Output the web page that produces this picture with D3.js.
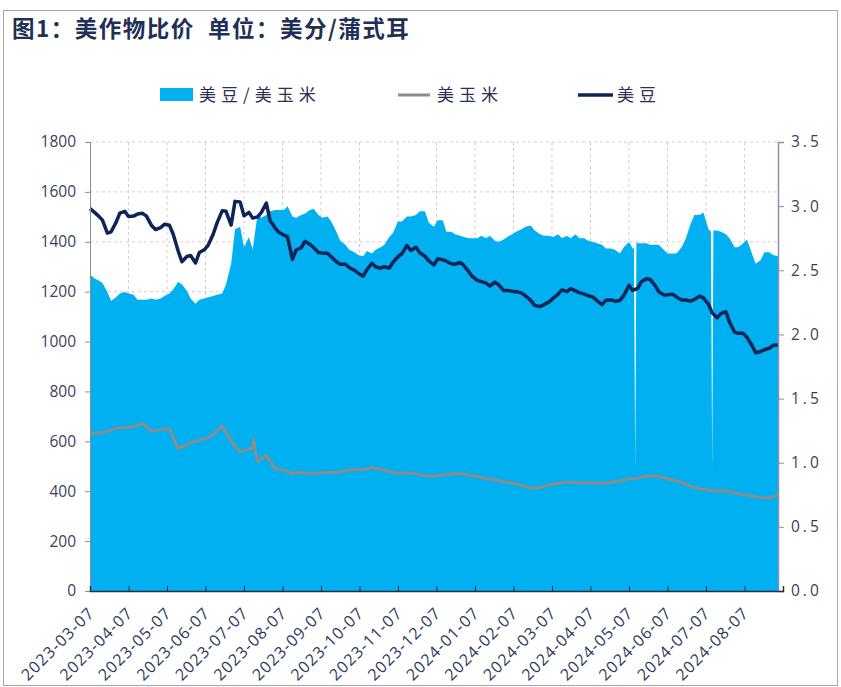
<!DOCTYPE html>
<html><head><meta charset="utf-8">
<script src="https://cdn.jsdelivr.net/npm/d3@7"></script>
<style>body{margin:0;background:#fff}</style>
</head><body>
<svg id="c" width="841" height="687"></svg>
<script>
// ---------- data ----------
const titleText = "图1：美作物比价  单位：美分/蒲式耳";
const legendLabels = ["美豆/美玉米", "美玉米", "美豆"];
const startDate = "2023-03-07";   // first observation (a Tuesday)
const lastDate = "2024-09-03";    // last observation
// soybean & ratio: two readings per week (Tuesday, Friday) from startDate
const soy = [1533,1521,1503,1487,1435,1440,1478,1515,1522,1501,
  1503,1511,1514,1503,1465,1449,1457,1470,1466,1430,
  1363,1320,1341,1345,1315,1357,1368,1386,1430,1476,
  1524,1522,1467,1562,1560,1504,1518,1495,1500,1518,
  1555,1485,1456,1438,1427,1421,1330,1367,1376,1402,
  1390,1377,1357,1355,1354,1340,1320,1310,1310,1297,
  1286,1274,1262,1288,1314,1300,1294,1300,1295,1318,
  1340,1352,1385,1365,1378,1356,1342,1324,1307,1332,
  1328,1322,1312,1310,1317,1305,1280,1260,1245,1240,
  1234,1222,1238,1228,1205,1205,1202,1200,1195,1183,
  1165,1145,1140,1148,1160,1174,1190,1207,1200,1212,
  1203,1196,1190,1184,1178,1164,1148,1166,1167,1162,
  1165,1185,1225,1205,1213,1240,1252,1249,1225,1200,
  1187,1188,1190,1179,1167,1167,1162,1169,1182,1175,
  1150,1115,1095,1112,1120,1078,1038,1033,1033,1017,
  985,955,960,967,973,985,986];
const ratio = [2.47,2.44,2.42,2.40,2.33,2.26,2.29,2.32,2.33,2.32,
  2.31,2.27,2.27,2.27,2.28,2.27,2.28,2.30,2.32,2.35,
  2.41,2.39,2.34,2.28,2.24,2.27,2.28,2.29,2.30,2.31,
  2.32,2.39,2.55,2.82,2.84,2.68,2.76,2.66,2.94,2.91,
  2.93,2.96,2.97,2.97,2.97,3.00,2.92,2.91,2.93,2.94,
  2.97,2.98,2.93,2.91,2.92,2.88,2.80,2.73,2.70,2.66,
  2.64,2.62,2.61,2.65,2.63,2.66,2.68,2.70,2.76,2.79,
  2.88,2.88,2.92,2.92,2.93,2.96,2.96,2.87,2.84,2.89,
  2.89,2.80,2.80,2.78,2.77,2.76,2.75,2.75,2.75,2.77,
  2.75,2.77,2.73,2.72,2.74,2.76,2.78,2.80,2.82,2.84,
  2.85,2.81,2.78,2.77,2.77,2.76,2.78,2.75,2.77,2.75,
  2.78,2.75,2.75,2.73,2.72,2.71,2.70,2.67,2.67,2.66,
  2.63,2.68,2.72,2.67,2.71,2.71,2.71,2.70,2.70,2.70,
  2.66,2.63,2.63,2.63,2.68,2.74,2.86,2.93,2.93,2.95,
  2.82,0.95,2.81,2.80,2.78,2.75,2.68,2.68,2.71,2.74,
  2.63,2.55,2.58,2.64,2.64,2.62,2.61];
// extra daily readings of the ratio around its one-day drops
const ratioExtraDates = ["2024-05-11","2024-05-12","2024-05-13","2024-07-11","2024-07-13"];
const ratioExtraValues = [2.67,0.95,2.72,2.80,2.81];
// corn: one reading per week (Tuesday) from startDate
const corn = [633,633,638,653,655,658,673,640,648,650,
  570,588,600,610,625,663,600,558,570,520,
  545,490,485,470,476,470,472,475,475,482,
  487,487,495,487,478,472,474,470,462,460,
  465,469,472,465,458,452,445,438,432,425,
  412,415,425,432,437,435,433,433,432,435,
  440,450,452,460,462,455,445,435,420,410,
  405,400,402,392,388,380,375,372,385];
// extra daily corn readings around its short spike in July 2023
const cornExtraDates = ["2023-07-14","2023-07-15","2023-07-16"];
const cornExtraValues = [572,608,565];
const leftTicks = [0,200,400,600,800,1000,1200,1400,1600,1800];
const rightTicks = [0,0.5,1,1.5,2,2.5,3,3.5];
const monthTickLabels = ["2023-03-07","2023-04-07","2023-05-07","2023-06-07","2023-07-07","2023-08-07",
  "2023-09-07","2023-10-07","2023-11-07","2023-12-07","2024-01-07","2024-02-07","2024-03-07",
  "2024-04-07","2024-05-07","2024-06-07","2024-07-07","2024-08-07"];

// ---------- layout ----------
const W = 841, H = 687;
const M = {left: 90, top: 142, right: 63, bottom: 96};
const pw = W - M.left - M.right, ph = H - M.top - M.bottom;
const parse = d3.timeParse("%Y-%m-%d");
const svg = d3.select("#c");

svg.append("rect").attr("x", 3.5).attr("y", 10.5).attr("width", 834).attr("height", 675)
  .attr("fill", "none").attr("stroke", "#a6a6a6").attr("stroke-width", 1);

svg.append("text").attr("x", 12).attr("y", 37).text(titleText)
  .style("white-space", "pre")
  .attr("font-family", "'Noto Sans CJK SC', sans-serif").attr("font-weight", "bold")
  .attr("font-size", 22.5).attr("letter-spacing", "1.5px").attr("fill", "#1f2f55");

// ---------- scales ----------
const monthDates = monthTickLabels.map(parse);
const last = parse(lastDate);
const lastTick = monthDates[monthDates.length - 1];
const nextMonth = d3.timeMonth.offset(lastTick, 1);
const frac = (last - lastTick) / (nextMonth - lastTick);
const step = pw / (monthDates.length - 1 + frac);
const xDomain = monthDates.concat([nextMonth]);
const x = d3.scaleTime().domain(xDomain).range(xDomain.map((d, i) => i * step));
const yL = d3.scaleLinear().domain([0, 1800]).range([ph, 0]);
const yR = d3.scaleLinear().domain([0, 3.5]).range([ph, 0]);

const start = parse(startDate);
const halfWeeks = d3.range(soy.length).map(i => d3.timeDay.offset(start, 7 * Math.floor(i / 2) + (i % 2) * 3));
const weeks = d3.range(corn.length).map(i => d3.timeDay.offset(start, 7 * i));
const soyData = halfWeeks.map((d, i) => ({d, v: soy[i]}));
const cornData = weeks.map((d, i) => ({d, v: corn[i]}))
  .concat(cornExtraDates.map((s, i) => ({d: parse(s), v: cornExtraValues[i]})))
  .sort((a, b) => a.d - b.d);
const ratioData = halfWeeks.map((d, i) => ({d, v: ratio[i]}))
  .concat(ratioExtraDates.map((s, i) => ({d: parse(s), v: ratioExtraValues[i]})))
  .sort((a, b) => a.d - b.d);

const g = svg.append("g").attr("transform", `translate(${M.left},${M.top})`);

// grid
g.append("g").selectAll("line").data(leftTicks.filter(t => t > 0)).join("line")
  .attr("x1", 0).attr("x2", pw).attr("y1", d => yL(d)).attr("y2", d => yL(d))
  .attr("stroke", "#cfcfcf").attr("stroke-dasharray", "3,3");
g.append("g").selectAll("line").data(monthDates.slice(1)).join("line")
  .attr("y1", 0).attr("y2", ph).attr("x1", d => x(d)).attr("x2", d => x(d))
  .attr("stroke", "#cfcfcf").attr("stroke-dasharray", "3,3");

// area
g.append("path").datum(ratioData)
  .attr("d", d3.area().x(d => x(d.d)).y0(ph).y1(d => yR(d.v)))
  .attr("fill", "#00b0f0");

// lines
g.append("path").datum(cornData)
  .attr("d", d3.line().x(d => x(d.d)).y(d => yL(d.v)))
  .attr("fill", "none").attr("stroke", "#8c8c8c").attr("stroke-width", 3).attr("stroke-linejoin", "round");
g.append("path").datum(soyData)
  .attr("d", d3.line().x(d => x(d.d)).y(d => yL(d.v)))
  .attr("fill", "none").attr("stroke", "#0d2457").attr("stroke-width", 3.5).attr("stroke-linejoin", "round");

// axes
const axisFont = "'Open Sans', 'Noto Sans', sans-serif";
const ax = g.append("g").call(d3.axisLeft(yL).tickValues(leftTicks).tickSize(5).tickPadding(9).tickFormat(d3.format("d")));
ax.select(".domain").attr("stroke", "#8c8c8c");
ax.selectAll(".tick line").attr("stroke", "#8c8c8c");
ax.selectAll("text").attr("font-family", axisFont).attr("font-size", 15.5).attr("fill", "#3a3f5c");

const ar = g.append("g").attr("transform", `translate(${pw},0)`)
  .call(d3.axisRight(yR).tickValues(rightTicks).tickSize(6).tickPadding(7).tickFormat(d3.format(".1f")));
ar.select(".domain").attr("stroke", "#8a90b0").attr("stroke-width", 1.5);
ar.selectAll(".tick line").attr("stroke", "#8a90b0");
ar.selectAll("text").attr("font-family", axisFont).attr("font-size", 15.5).attr("fill", "#3a3f5c")
  .attr("letter-spacing", "3px");

const ab = g.append("g").attr("transform", `translate(0,${ph})`)
  .call(d3.axisBottom(x).tickValues(monthDates).tickSize(-5).tickPadding(0)
    .tickFormat((d, i) => monthTickLabels[i]));
ab.select(".domain").attr("stroke", "#1f2d50").attr("stroke-width", 1.5);
ab.selectAll(".tick line").attr("stroke", "#1f2d50");
ab.selectAll("text").attr("font-family", axisFont).attr("font-size", 16).attr("fill", "#2b3a5e")
  .attr("letter-spacing", "1.2px")
  .attr("text-anchor", "end").attr("dy", "0.35em")
  .attr("transform", "translate(1,19) rotate(-45)");

// legend
const legFont = "'Noto Sans CJK SC', sans-serif";
const leg = svg.append("g").attr("transform", "translate(0,95)");
leg.append("rect").attr("x", 160).attr("y", -7).attr("width", 33).attr("height", 13).attr("fill", "#00b0f0");
leg.append("line").attr("x1", 398).attr("x2", 430).attr("y1", 0).attr("y2", 0)
  .attr("stroke", "#8c8c8c").attr("stroke-width", 3);
leg.append("line").attr("x1", 578).attr("x2", 613).attr("y1", 0).attr("y2", 0)
  .attr("stroke", "#0d2457").attr("stroke-width", 3.5);
[[199, 0], [437, 1], [617, 2]].forEach(([lx, i]) => {
  leg.append("text").attr("x", lx).attr("y", 6).text(legendLabels[i])
    .attr("font-family", legFont).attr("font-size", 17).attr("fill", "#2a3050")
    .attr("letter-spacing", "5px");
});
</script>
</body></html>
